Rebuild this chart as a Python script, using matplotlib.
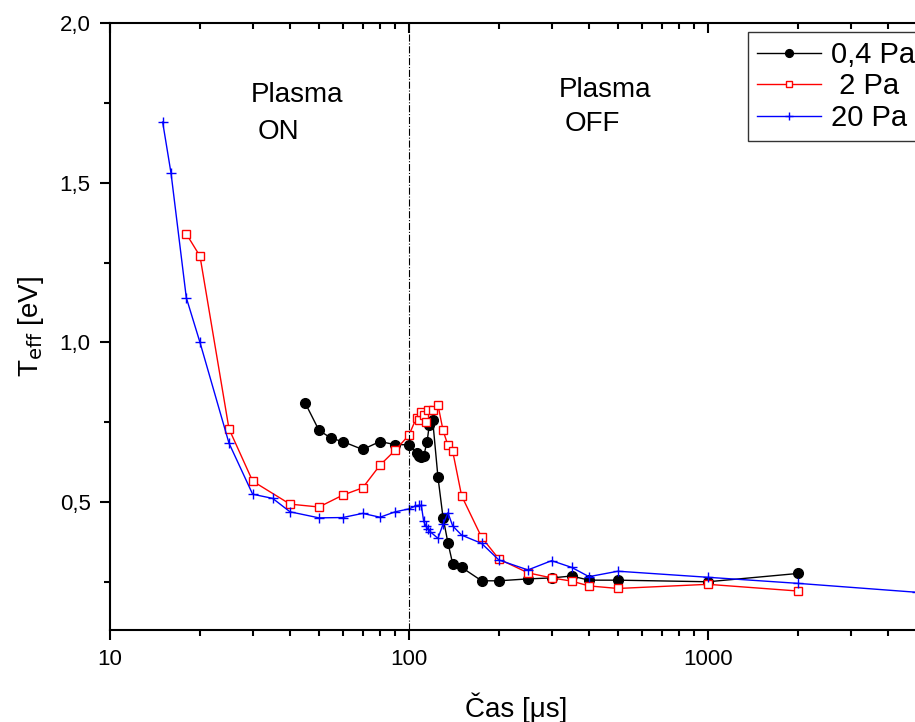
import matplotlib
matplotlib.use("Agg")
import matplotlib.pyplot as plt
from matplotlib.ticker import FixedLocator, FuncFormatter, NullFormatter, LogLocator

plt.rcParams['font.family'] = ['Liberation Sans', 'DejaVu Sans']

# 0,4 Pa
t_04 = [45, 50, 55, 60, 70, 80, 90, 100, 106, 108, 110, 112, 115, 117, 120, 125,
        130, 135, 140, 150, 175, 200, 250, 300, 350, 400, 500, 1000, 2000]
T_04 = [0.81, 0.725, 0.70, 0.69, 0.665, 0.69, 0.68, 0.68, 0.654, 0.644, 0.64, 0.644,
        0.69, 0.743, 0.758, 0.579, 0.452, 0.373, 0.308, 0.296, 0.254, 0.254, 0.26,
        0.263, 0.269, 0.256, 0.256, 0.251, 0.277]

# 2 Pa
t_2 = [18, 20, 25, 30, 40, 50, 60, 70, 80, 90, 100, 106, 108, 110, 112, 114, 116,
       120, 125, 130, 135, 140, 150, 175, 200, 250, 300, 350, 400, 500, 1000, 2000]
T_2 = [1.34, 1.27, 0.73, 0.566, 0.494, 0.485, 0.522, 0.545, 0.616, 0.663, 0.71,
       0.765, 0.756, 0.783, 0.774, 0.751, 0.79, 0.79, 0.805, 0.725, 0.678, 0.66,
       0.52, 0.39, 0.322, 0.279, 0.263, 0.253, 0.238, 0.23, 0.243, 0.222]

# 20 Pa
t_20 = [15, 16, 18, 20, 25, 30, 35, 40, 50, 60, 70, 80, 90, 100, 105, 108, 110,
        112, 114, 116, 118, 125, 130, 135, 140, 150, 175, 200, 250, 300, 350, 400,
        500, 1000, 2000, 5000]
T_20 = [1.69, 1.53, 1.14, 1.0, 0.685, 0.525, 0.512, 0.47, 0.451, 0.452, 0.465,
        0.453, 0.47, 0.479, 0.488, 0.49, 0.49, 0.44, 0.425, 0.415, 0.407, 0.387,
        0.431, 0.467, 0.426, 0.397, 0.371, 0.319, 0.288, 0.317, 0.296, 0.267,
        0.284, 0.265, 0.246, 0.218]

fig = plt.figure(figsize=(9.15, 7.22), dpi=100)
ax = fig.add_axes([110/915, 92/722, 812/915, 607/722])

ax.plot(t_04, T_04, color='black', lw=1, marker='o', ms=7, mfc='black', mec='black', label='0,4 Pa')
ax.plot(t_2, T_2, color='red', lw=1, marker='s', ms=6, mfc='white', mec='red', mew=1, label=' 2 Pa')
ax.plot(t_20, T_20, color='blue', lw=1, marker='+', ms=7, mec='blue', mew=1, label='20 Pa')

ax.axvline(100, color='black', lw=0.8, ls='-.')

ax.set_xscale('log')
ax.set_xlim(10, 5200)
ax.set_ylim(0.1, 2.0)

ax.yaxis.set_major_locator(FixedLocator([0.5, 1.0, 1.5, 2.0]))
ax.yaxis.set_minor_locator(FixedLocator([0.25, 0.75, 1.25, 1.75]))
ax.yaxis.set_major_formatter(FuncFormatter(lambda v, p: ('%.1f' % v).replace('.', ',')))
ax.xaxis.set_major_locator(FixedLocator([10, 100, 1000]))
ax.xaxis.set_minor_locator(LogLocator(base=10, subs=range(2, 10)))
ax.xaxis.set_major_formatter(FuncFormatter(lambda v, p: '%d' % v))
ax.xaxis.set_minor_formatter(NullFormatter())

for s in ax.spines.values():
    s.set_linewidth(1.5)
ax.tick_params(which='both', direction='out', width=1.5, labelsize=16)
ax.tick_params(which='major', length=7, pad=7)
ax.tick_params(which='minor', length=4.5)
ax.tick_params(which='both', top=True, right=False)

# top ticks point inward
for t in ax.xaxis.get_major_ticks() + ax.xaxis.get_minor_ticks():
    t.tick2line.set_marker(3)

ax.set_xlabel('Čas [μs]', fontsize=20, labelpad=16)
ax.set_ylabel(r'T$_{\rm eff}$ [eV]', fontsize=20, labelpad=10)

ax.text(42.2, 1.775, 'Plasma', fontsize=20, ha='center', va='center')
ax.text(36.5, 1.66, 'ON', fontsize=20, ha='center', va='center')
ax.text(451, 1.79, 'Plasma', fontsize=20, ha='center', va='center')
ax.text(409, 1.685, 'OFF', fontsize=20, ha='center', va='center')

leg = ax.legend(loc='upper left', bbox_to_anchor=(748/915, 1 - 32/722),
                bbox_transform=fig.transFigure, fontsize=21, frameon=True,
                fancybox=False, handlelength=2.2, handletextpad=0.35,
                borderpad=0.3, labelspacing=0.12, borderaxespad=0,
                markerscale=0.8)
leg.get_frame().set_edgecolor('black')
leg.get_frame().set_linewidth(1.0)

fig.savefig('out.png', dpi=100)
